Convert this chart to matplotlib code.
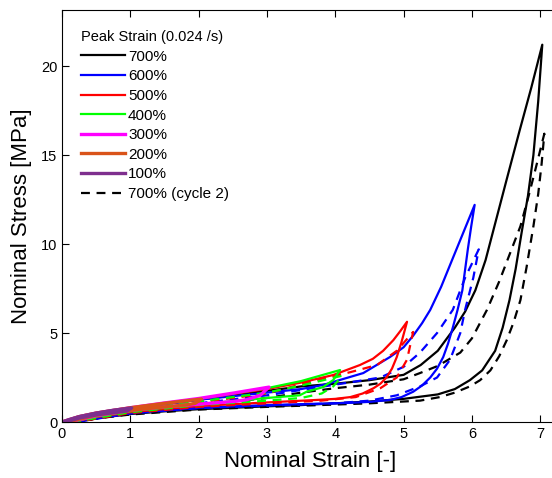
import matplotlib
matplotlib.use('Agg')
import matplotlib.pyplot as plt

plt.rcParams['font.family'] = ['Liberation Sans', 'DejaVu Sans']

# cycle 1 (solid) and cycle 2 (dashed) loops, loading then unloading
strain_700 = [0, 0.5, 1, 1.5, 2, 2.5, 3, 3.5, 4, 4.5, 5, 5.25, 5.5, 5.75, 5.9, 6.05, 6.2, 6.35, 6.5, 6.7, 6.87, 7.03,
              6.97, 6.9, 6.82, 6.73, 6.64, 6.55, 6.45, 6.34, 6.15, 5.97, 5.75, 5.5, 5, 4.5, 4, 3.5, 3, 2.5, 2, 1.5, 1, 0.5, 0.2]
stress_700 = [0, 0.45, 0.75, 1.0, 1.25, 1.5, 1.75, 2.0, 2.15, 2.35, 2.65, 3.2, 4.0, 5.3, 6.2, 7.4, 9.1, 11.3, 13.5, 16.4, 18.8, 21.2,
              18.0, 15.0, 12.7, 10.7, 8.6, 6.85, 5.3, 4.0, 2.9, 2.35, 1.85, 1.55, 1.3, 1.15, 1.05, 0.95, 0.88, 0.8, 0.72, 0.6, 0.45, 0.2, 0]
strain_700_c2 = [0.2, 1, 2, 3, 3.5, 4, 4.5, 5, 5.24, 5.5, 5.83, 6.0, 6.22, 6.4, 6.56, 6.71, 6.83, 6.93, 7.06,
                 7.02, 6.97, 6.9, 6.8, 6.71, 6.61, 6.51, 6.4, 6.27, 6.12, 5.97, 5.75, 5.53, 5.24, 4.5, 4, 3, 2, 1, 0.5, 0.25]
stress_700_c2 = [0, 0.55, 0.95, 1.35, 1.65, 1.9, 2.1, 2.4, 2.75, 3.15, 3.9, 4.7, 6.3, 7.9, 9.5, 11.0, 12.7, 14.2, 16.2,
                 14.5, 12.8, 11.0, 8.7, 6.85, 5.6, 4.6, 3.7, 2.9, 2.35, 2.0, 1.65, 1.4, 1.2, 1.05, 0.98, 0.85, 0.7, 0.42, 0.2, 0]

strain_600 = [0, 0.5, 1, 2, 3, 3.5, 3.82, 4.41, 4.8, 5.0, 5.14, 5.27, 5.39, 5.55, 5.72, 5.88, 6.04,
              5.99, 5.94, 5.86, 5.79, 5.72, 5.65, 5.58, 5.49, 5.39, 5.27, 5.14, 4.97, 4.8, 4.5, 4.17, 3, 2, 1, 0.5, 0.2]
stress_600 = [0, 0.45, 0.75, 1.25, 1.65, 1.85, 2.08, 2.75, 3.65, 4.2, 4.85, 5.55, 6.3, 7.6, 9.2, 10.7, 12.2,
              11.0, 9.7, 7.4, 6.3, 5.3, 4.4, 3.65, 3.0, 2.5, 2.05, 1.7, 1.4, 1.24, 1.13, 1.07, 0.95, 0.8, 0.5, 0.25, 0]
strain_600_c2 = [0.2, 1, 2, 3, 3.5, 4.17, 4.66, 5.0, 5.24, 5.49, 5.72, 5.9, 6.1,
                 6.02, 5.9, 5.83, 5.68, 5.49, 5.24, 4.9, 4.5, 4, 3, 2, 1, 0.2]
stress_600_c2 = [0, 0.58, 1.05, 1.5, 1.8, 2.2, 2.5, 3.1, 3.9, 5.0, 6.3, 8.1, 9.7,
                 8.1, 6.3, 5.0, 3.5, 2.5, 2.0, 1.5, 1.2, 1.05, 0.92, 0.78, 0.48, 0]

strain_500 = [0, 0.5, 1, 2, 3, 3.48, 3.97, 4.36, 4.55, 4.7, 4.85, 4.95, 5.05,
              5.02, 4.97, 4.9, 4.83, 4.75, 4.66, 4.56, 4.4, 4.22, 4.0, 3.73, 3, 2, 1, 0.5, 0.15]
stress_500 = [0, 0.47, 0.77, 1.3, 1.85, 2.2, 2.64, 3.2, 3.55, 4.0, 4.6, 5.1, 5.63,
              5.2, 4.5, 3.65, 3.0, 2.5, 2.15, 1.9, 1.6, 1.4, 1.3, 1.24, 1.1, 0.9, 0.55, 0.28, 0]
strain_500_c2 = [0.15, 1, 2, 3, 3.73, 4.22, 4.61, 4.9, 5.14,
                 5.05, 4.9, 4.66, 4.3, 3.8, 3, 2, 1, 0.2]
stress_500_c2 = [0, 0.6, 1.1, 1.6, 2.36, 2.8, 3.2, 4.0, 5.06,
                 3.5, 2.5, 1.9, 1.4, 1.2, 1.05, 0.85, 0.5, 0]

strain_400 = [0, 0.5, 1, 2, 3, 3.5, 4.07,
              3.97, 3.82, 3.58, 3.48, 3, 2, 1, 0.5, 0.12]
stress_400 = [0, 0.5, 0.8, 1.3, 1.9, 2.3, 2.92,
              2.36, 1.96, 1.7, 1.5, 1.35, 1.0, 0.6, 0.3, 0]
strain_400_c2 = [0.15, 1, 2, 3, 3.5, 4.1,
                 3.97, 3.8, 3.5, 3, 2, 1, 0.15]
stress_400_c2 = [0, 0.65, 1.15, 1.65, 2.05, 2.6,
                 2.0, 1.6, 1.35, 1.2, 0.95, 0.55, 0]

strain_300 = [0, 0.25, 0.5, 1, 1.5, 2, 2.5, 3.03,
              2.9, 2.7, 2.5, 2, 1.5, 1, 0.5, 0.1]
stress_300 = [0, 0.3, 0.5, 0.8, 1.07, 1.32, 1.62, 1.96,
              1.5, 1.25, 1.15, 1.0, 0.85, 0.65, 0.35, 0]

strain_200 = [0, 0.25, 0.5, 1, 1.5, 2.04,
              1.95, 1.8, 1.5, 1, 0.5, 0.08]
stress_200 = [0, 0.3, 0.5, 0.8, 1.05, 1.29,
              1.05, 0.95, 0.85, 0.65, 0.38, 0]

strain_100 = [0, 0.1, 0.25, 0.5, 0.75, 1.02,
              0.95, 0.8, 0.5, 0.25, 0.05]
stress_100 = [0, 0.13, 0.3, 0.5, 0.66, 0.79,
              0.62, 0.55, 0.4, 0.22, 0]

labels = ['700%', '600%', '500%', '400%', '300%', '200%', '100%']
colors = ['black', 'blue', 'red', (0, 1, 0), 'magenta', (0.85, 0.325, 0.098), (0.494, 0.184, 0.556)]

W, H = 552, 478
fig = plt.figure(figsize=(W / 100, H / 100), dpi=100)
ax = fig.add_axes([62 / W, (H - 422) / H, 496 / W, 412 / H])

lw = 1.6
dash = (0, (4, 3))
ax.plot(strain_700, stress_700, color=colors[0], lw=lw, label=labels[0])
ax.plot(strain_700_c2, stress_700_c2, color=colors[0], lw=lw, ls=dash)
ax.plot(strain_600, stress_600, color=colors[1], lw=lw, label=labels[1])
ax.plot(strain_600_c2, stress_600_c2, color=colors[1], lw=lw, ls=dash)
ax.plot(strain_500, stress_500, color=colors[2], lw=lw, label=labels[2])
ax.plot(strain_500_c2, stress_500_c2, color=colors[2], lw=lw, ls=dash)
ax.plot(strain_400, stress_400, color=colors[3], lw=lw, label=labels[3])
ax.plot(strain_400_c2, stress_400_c2, color=colors[3], lw=lw, ls=dash)
ax.plot(strain_300, stress_300, color=colors[4], lw=lw + 0.8, label=labels[4])
ax.plot(strain_200, stress_200, color=colors[5], lw=lw + 0.8, label=labels[5])
ax.plot(strain_100, stress_100, color=colors[6], lw=lw + 0.8, label=labels[6])
ax.plot([], [], color='black', lw=lw, ls=dash, label='700% (cycle 2)')

ax.set_xlim(0, 7.26)
ax.set_ylim(0, 23.15)
ax.set_xticks(range(0, 8))
ax.set_yticks([0, 5, 10, 15, 20])
ax.tick_params(direction='in', top=True, right=False, length=5, width=0.8, labelsize=10.5)
ax.spines['right'].set_visible(False)
for s in ax.spines.values():
    s.set_linewidth(0.8)

ax.set_xlabel('Nominal Strain [-]', fontsize=16, labelpad=7)
ax.set_ylabel('Nominal Stress [MPa]', fontsize=16)
ax.yaxis.set_label_coords(-0.06, 0.5)

leg = ax.legend(title='Peak Strain (0.024 /s)', loc='upper left', frameon=False,
                fontsize=11, title_fontsize=10.5, handlelength=2.9, handletextpad=0.2,
                labelspacing=0.37, bbox_to_anchor=(0.01, 0.985))
leg._legend_box.align = 'left'

fig.savefig('out.png', dpi=100)
